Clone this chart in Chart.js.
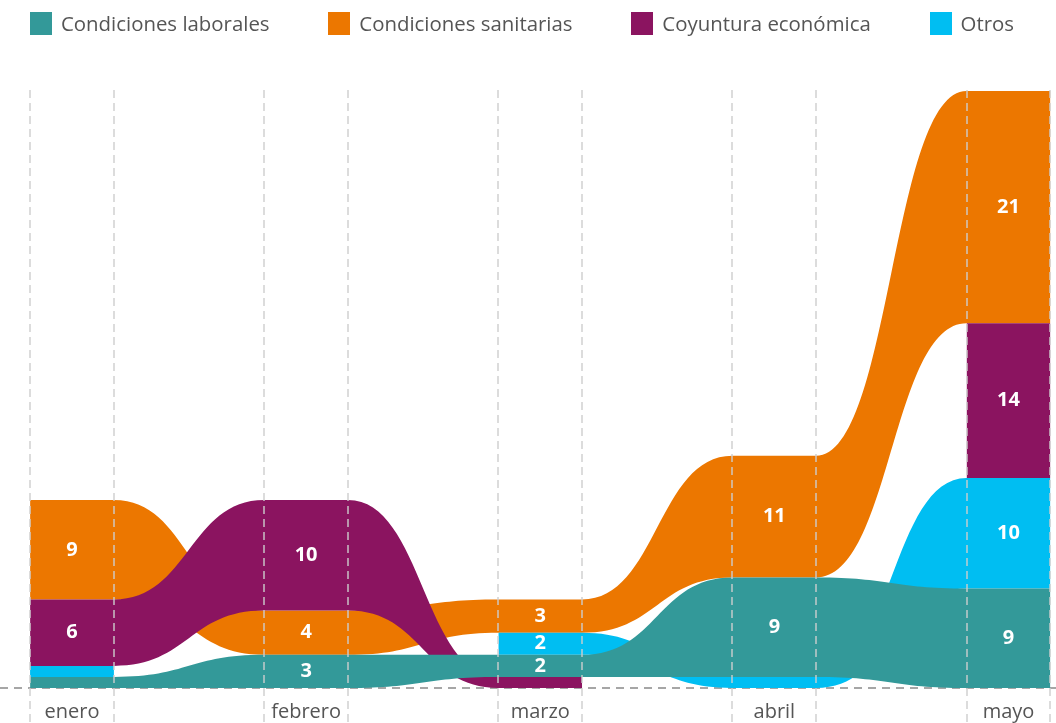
<!DOCTYPE html>
<html lang="es">
<head>
<meta charset="utf-8">
<title>Motivos por mes</title>
<script src="https://cdn.jsdelivr.net/npm/chart.js@4.4.1/dist/chart.umd.min.js"></script>
<style>
    html, body { margin: 0; padding: 0; background: #fff; }
    .wrap { position: relative; width: 1056px; height: 723px; overflow: hidden; }
    #ribbonChart { position: absolute; left: 0; top: 0; }
    .legend {
        position: absolute; top: 12px; left: 30px; right: 42px;
        display: flex; justify-content: space-between;
        font-family: "Open Sans", sans-serif; font-size: 20.4px; line-height: 23px; color: #555;
    }
    .legend-item { display: flex; align-items: center; white-space: nowrap; }
    .legend-box { width: 22px; height: 23px; margin-right: 9px; }
</style>
</head>
<body>
<div class="wrap">
    <canvas id="ribbonChart" width="1056" height="723"></canvas>
    <div class="legend" id="legend"></div>
</div>
<script>
(function() {
    'use strict';

    var months = ['enero', 'febrero', 'marzo', 'abril', 'mayo'];
    var categories = ['Condiciones laborales', 'Condiciones sanitarias', 'Coyuntura económica', 'Otros'];
    var laborales = [1, 3, 2, 9, 9];
    var sanitarias = [9, 4, 3, 11, 21];
    var coyuntura = [6, 10, 1, 0, 14];
    var otros = [1, 0, 2, 1, 10];

    var series = [laborales, sanitarias, coyuntura, otros];
    var colors = ['#339999', '#ec7700', '#8b1460', '#00bef2'];

    // first dataset ends up on top
    var layerOrder = [0, 2, 3, 1];

    var BAND = 0.179;      // half width of a month column, in x units
    var X_MIN = -0.3075;
    var X_MAX = 4.203;
    var Y_MAX = 54.1;
    var CURVE = 0.5;       // handle length of the ribbon curves, share of the gap
    var gridColor = 'rgba(205, 205, 205, 0.7)';

    // each month is stacked from the smallest value up
    function stackBottoms() {
        var bottoms = series.map(function() { return []; });
        months.forEach(function(m, i) {
            var idx = [0, 1, 2, 3].sort(function(a, b) {
                return (series[a][i] - series[b][i]) || (a - b);
            });
            var acc = 0;
            idx.forEach(function(c) {
                bottoms[c][i] = acc;
                acc += series[c][i];
            });
        });
        return bottoms;
    }

    var bottoms = stackBottoms();

    function edgePoints(c, upper) {
        var pts = [];
        series[c].forEach(function(v, i) {
            var y = v > 0 ? bottoms[c][i] + (upper ? v : 0) : null;
            pts.push({ x: i - BAND, y: y });
            pts.push({ x: i + BAND, y: y });
        });
        return pts;
    }

    var datasets = [];
    layerOrder.forEach(function(c) {
        var common = {
            borderWidth: 0,
            borderColor: 'rgba(0,0,0,0)',
            pointRadius: 0,
            pointHoverRadius: 0,
            cubicInterpolationMode: 'monotone',
            spanGaps: false
        };
        datasets.push(Object.assign({
            label: categories[c] + ' base',
            data: edgePoints(c, false),
            fill: false
        }, common));
        datasets.push(Object.assign({
            label: categories[c],
            data: edgePoints(c, true),
            fill: '-1',
            backgroundColor: colors[c]
        }, common));
    });

    var xTicks = [];
    months.forEach(function(m, i) {
        xTicks.push(i - BAND, i, i + BAND);
    });

    function isMonthCenter(value) {
        return Math.abs(value - Math.round(value)) < 1e-6;
    }

    // flat handles on both ends of every ribbon, like a sankey link
    var ribbonCurves = {
        id: 'ribbonCurves',
        beforeDatasetsDraw: function(chart) {
            chart.getSortedVisibleDatasetMetas().forEach(function(meta) {
                var pts = meta.data;
                for (var i = 0; i < pts.length - 1; i++) {
                    var a = pts[i];
                    var b = pts[i + 1];
                    if (a.skip || b.skip) continue;
                    var dx = (b.x - a.x) * CURVE;
                    a.cp2x = a.x + dx;
                    a.cp2y = a.y;
                    b.cp1x = b.x - dx;
                    b.cp1y = b.y;
                }
            });
        }
    };

    var valueLabels = {
        id: 'valueLabels',
        afterDatasetsDraw: function(chart) {
            var ctx = chart.ctx;
            var xs = chart.scales.x;
            var ys = chart.scales.y;
            ctx.save();
            ctx.fillStyle = '#fff';
            ctx.font = 'bold 20px "Open Sans"';
            ctx.textAlign = 'center';
            ctx.textBaseline = 'middle';
            series.forEach(function(values, c) {
                values.forEach(function(v, i) {
                    if (v < 2) return;
                    ctx.fillText(String(v), xs.getPixelForValue(i), ys.getPixelForValue(bottoms[c][i] + v / 2));
                });
            });
            ctx.restore();
        }
    };

    // legend
    var legendHtml = '';
    categories.forEach(function(name, c) {
        legendHtml += '<div class="legend-item"><span class="legend-box" style="background:' + colors[c] + '"></span>' + name + '</div>';
    });
    document.getElementById('legend').innerHTML = legendHtml;

    new Chart(document.getElementById('ribbonChart').getContext('2d'), {
        type: 'line',
        data: { datasets: datasets },
        options: {
            responsive: false,
            animation: false,
            events: [],
            layout: { padding: { top: 90, left: 0, right: 0, bottom: 0 } },
            plugins: {
                legend: { display: false },
                tooltip: { enabled: false }
            },
            scales: {
                x: {
                    type: 'linear',
                    min: X_MIN,
                    max: X_MAX,
                    afterBuildTicks: function(axis) {
                        axis.ticks = xTicks.map(function(v) { return { value: v }; });
                    },
                    afterFit: function(axis) {
                        axis.height = 35;
                    },
                    ticks: {
                        autoSkip: false,
                        maxRotation: 0,
                        padding: -23,
                        color: '#555',
                        font: { family: 'Open Sans', size: 20 },
                        callback: function(value) {
                            return isMonthCenter(value) ? months[Math.round(value)] : '';
                        }
                    },
                    grid: {
                        z: 1,
                        lineWidth: 2,
                        tickLength: 35,
                        tickWidth: 2,
                        tickBorderDash: [8, 5],
                        color: function(context) {
                            if (!context.tick || isMonthCenter(context.tick.value)) return 'rgba(0,0,0,0)';
                            return gridColor;
                        },
                        tickColor: function(context) {
                            if (!context.tick || isMonthCenter(context.tick.value)) return 'rgba(0,0,0,0)';
                            return gridColor;
                        }
                    },
                    border: { display: false, dash: [8, 5] }
                },
                y: {
                    min: 0,
                    max: Y_MAX,
                    afterBuildTicks: function(axis) {
                        axis.ticks = [{ value: 0 }];
                    },
                    afterFit: function(axis) {
                        axis.width = 0;
                    },
                    ticks: { display: false },
                    grid: {
                        drawTicks: false,
                        lineWidth: 2,
                        color: '#a6a6a6'
                    },
                    border: { display: false, dash: [8, 6] }
                }
            }
        },
        plugins: [ribbonCurves, valueLabels]
    });

})();
</script>
</body>
</html>
